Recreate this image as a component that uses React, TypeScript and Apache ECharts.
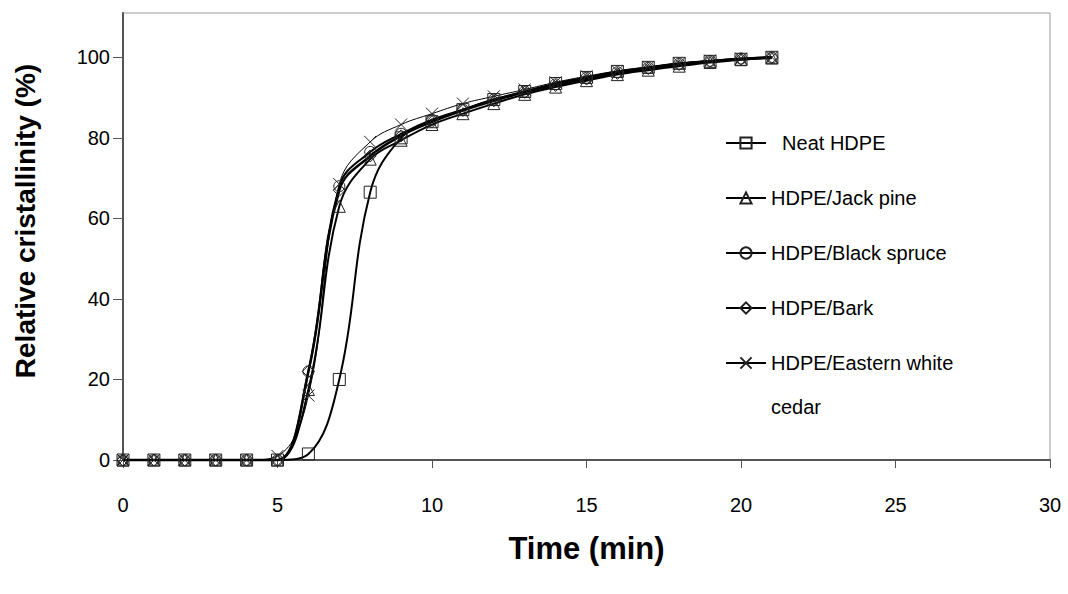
import React, { useEffect, useRef } from "react";
import * as echarts from "echarts";

const timeMin = [0, 1, 2, 3, 4, 5, 6, 7, 8, 9, 10, 11, 12, 13, 14, 15, 16, 17, 18, 19, 20, 21];
const neatHDPE = [0, 0, 0, 0, 0, 0, 1.5, 20, 66.5, 80, 84, 87, 89.5, 91.5, 93.5, 95, 96.5, 97.5, 98.5, 99, 99.5, 100];
const jackPine = [0, 0, 0, 0, 0, 0, 17.5, 63, 74.7, 79.4, 83.3, 86, 88.5, 90.8, 92.6, 94.2, 95.7, 96.8, 97.8, 98.7, 99.4, 99.8];
const blackSpruce = [0, 0, 0, 0, 0, 0, 22, 68, 76.5, 81, 84.5, 87, 89.5, 91.5, 93.3, 94.9, 96.3, 97.4, 98.4, 99.1, 99.7, 100];
const bark = [0, 0, 0, 0, 0, 0, 22, 67, 75.5, 80.5, 84, 86.8, 89.2, 91.3, 93, 94.6, 96, 97.2, 98.2, 99, 99.6, 100];
const easternWhiteCedar = [0, 0, 0, 0, 0, 1, 16, 68.5, 79, 83.3, 86, 88.5, 90.3, 92, 93.8, 95.3, 96.6, 97.6, 98.5, 99.2, 99.7, 100];
const seriesNames = ["Neat HDPE", "HDPE/Jack pine", "HDPE/Black spruce", "HDPE/Bark", "HDPE/Eastern white cedar"];
// legend text as shown: first line beside the symbol, optional second (wrapped) line
const legendLines: Record<string, [string, string]> = {
  "Neat HDPE": ["  Neat HDPE", ""],
  "HDPE/Jack pine": ["HDPE/Jack pine", ""],
  "HDPE/Black spruce": ["HDPE/Black spruce", ""],
  "HDPE/Bark": ["HDPE/Bark", ""],
  "HDPE/Eastern white cedar": ["HDPE/Eastern white", "cedar"],
};
const yTicks = [0, 20, 40, 60, 80, 100];

const FONT = "'Liberation Sans', Arial, sans-serif";

export default function App() {
  const ref = useRef<HTMLDivElement>(null);
  useEffect(() => {
    document.body.style.margin = "0";
    const chart = echarts.init(ref.current!, null, { renderer: "svg" });
    const mk = (name: string, vals: number[], symbol: string, size: number, lw: number) => ({
      name,
      type: "line",
      data: timeMin.map((t, i) => [t, vals[i]]),
      smooth: 0.4,
      clip: false,
      symbol,
      symbolSize: size,
      showAllSymbol: true,
      lineStyle: { color: "#000", width: lw },
      itemStyle: { color: "rgba(0,0,0,0)", borderColor: "#222", borderWidth: 1 },
      emphasis: { disabled: true },
    });
    chart.setOption({
      animation: false,
      backgroundColor: "#fff",
      grid: { left: 123, right: 18, top: 13, bottom: 134, show: true, borderColor: "#9a9a9a", borderWidth: 1 },
      xAxis: {
        type: "value",
        min: 0,
        max: 30,
        interval: 5,
        name: "Time (min)",
        nameLocation: "middle",
        nameGap: 73,
        nameTextStyle: { fontFamily: FONT, fontSize: 31, fontWeight: "bold", color: "#000" },
        axisLine: { lineStyle: { color: "#555", width: 2 } },
        axisTick: { length: 8, lineStyle: { color: "#555", width: 1 } },
        axisLabel: { margin: 35, fontFamily: FONT, fontSize: 20, color: "#000" },
        splitLine: { show: false },
      },
      yAxis: {
        type: "value",
        min: 0,
        max: 111,
        interval: 20,
        axisLine: { show: true, lineStyle: { color: "#555", width: 2 } },
        axisTick: { show: true, length: 10, customValues: yTicks, lineStyle: { color: "#555", width: 1 } },
        axisLabel: { margin: 13, customValues: yTicks, fontFamily: FONT, fontSize: 20, color: "#000" },
        splitLine: { show: false },
      },
      legend: {
        orient: "vertical",
        left: 725,
        top: 77,
        padding: 0,
        itemWidth: 40,
        itemHeight: 14,
        itemGap: -77,
        textStyle: { fontFamily: FONT, fontSize: 20, color: "#000", lineHeight: 44 },
        formatter: (n: string) => {
          const [a, b] = legendLines[n];
          return "\n" + a + "\n" + b;
        },
        data: seriesNames,
      },
      graphic: [
        {
          type: "text",
          x: 25,
          y: 221,
          rotation: Math.PI / 2,
          style: {
            text: "Relative cristallinity (%)",
            font: `bold 28px ${FONT}`,
            fill: "#000",
            align: "center",
            verticalAlign: "middle",
          },
        },
      ],
      series: [
        mk(seriesNames[0], neatHDPE, "rect", 12, 2),
        mk(seriesNames[1], jackPine, "triangle", 12, 2),
        mk(seriesNames[2], blackSpruce, "circle", 11, 2),
        mk(seriesNames[3], bark, "diamond", 12, 2.5),
        mk(seriesNames[4], easternWhiteCedar, "path://M0,0L10,10M10,0L0,10", 12, 1),
      ],
    });
    return () => chart.dispose();
  }, []);
  return <div ref={ref} style={{ width: 1068, height: 594 }} />;
}
